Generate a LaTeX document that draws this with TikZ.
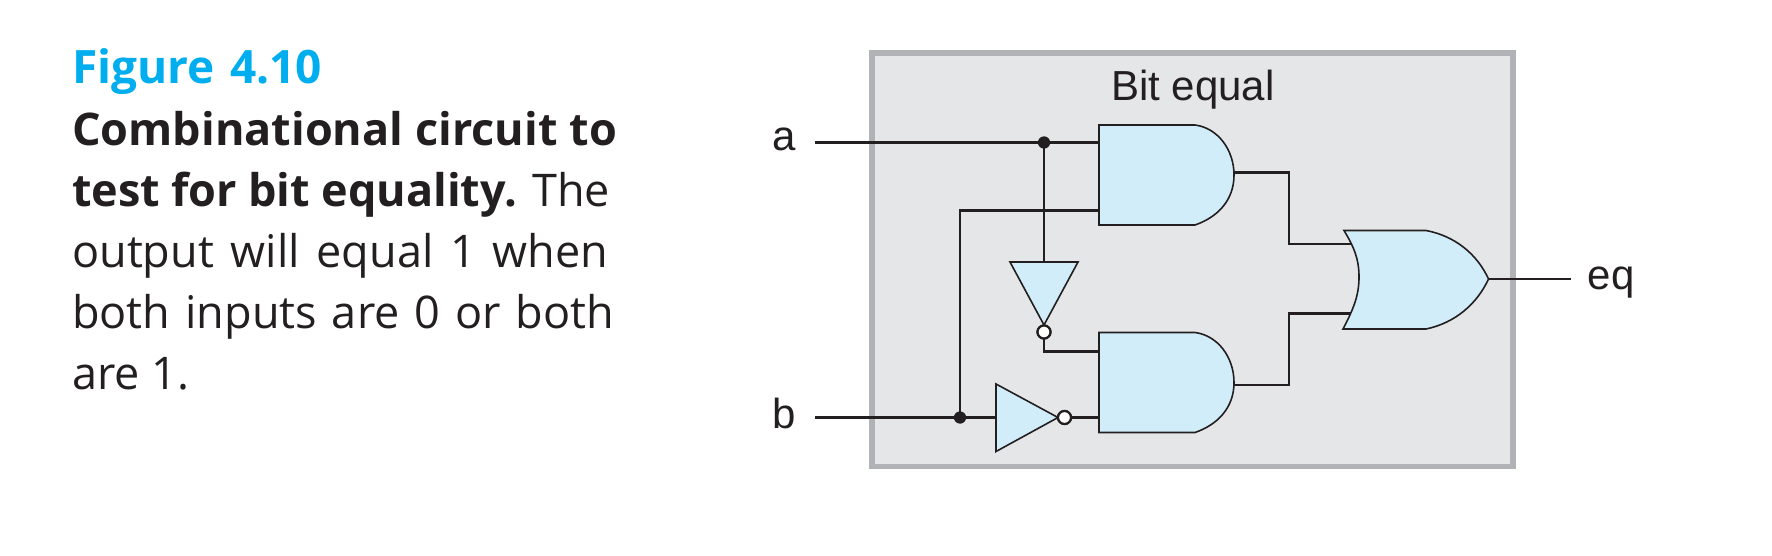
\documentclass[tikz,border=0pt]{standalone}
\usepackage{fontspec}
\setmainfont{Liberation Sans}
\newfontfamily\capfont{Open Sans}
\definecolor{ink}{HTML}{231F20}
\definecolor{panel}{HTML}{E5E6E8}
\definecolor{panelline}{HTML}{B0B2B6}
\definecolor{gatefill}{HTML}{D2EDFA}
\definecolor{figblue}{HTML}{00AEEF}
\tikzset{
  wire/.style={draw=ink,line width=2.4pt,line join=miter},
  gate/.style={draw=ink,fill=gatefill,line width=1.6pt,line join=miter},
  joint/.style={circle,fill=ink,inner sep=0pt,minimum size=12pt},
  bubble/.style={circle,draw=ink,fill=white,line width=2.2pt,inner sep=0pt,minimum size=13pt},
  label/.style={font=\fontsize{42}{50}\selectfont,text=ink,anchor=base,inner sep=0pt},
  capline/.style={font=\capfont\fontsize{45}{52}\selectfont,text=ink,anchor=base west,inner sep=0pt},
}
\newcommand{\capfit}[2]{\makebox[#1pt][s]{#2}}
\begin{document}
\begin{tikzpicture}[x=1pt,y=-1pt]
\useasboundingbox (0,0) rectangle (1772,556);
% caption
\node[capline,text=figblue,font=\capfont\fontsize{46}{52}\selectfont] (t0) at (72,84) {\bfseries\capfit{250}{Figure 4.10}};
\node[capline] (t1) at (72,145.5) {\bfseries\capfit{545}{Combinational circuit to}};
\node[capline] (t2) at (72,206.5) {\capfit{538}{\textbf{test for bit equality.} The}};
\node[capline] (t3) at (72,267.5) {\capfit{536}{output will equal 1 when}};
\node[capline] (t4) at (72,328.5) {\capfit{542}{both inputs are 0 or both}};
\node[capline] (t5) at (72,389.5) {are 1.};
% panel
\node[draw=panelline,fill=panel,line width=5.5pt,outer sep=0pt,minimum width=641pt,minimum height=413.5pt,inner sep=0pt,anchor=north west] (panel) at (872,53) {};
\node[label] (title) at (1193,100.5) {Bit equal};
\node[label] (la) at (784,150.5) {a};
\node[label] (lb) at (784,428) {b};
\node[label] (leq) at (1611,289) {eq};
% ports
\coordinate (ain) at (815,142.5);
\coordinate (bin) at (815,417.5);
\coordinate (eqout) at (1571,279);
\coordinate (and1a) at (1099,142.5);
\coordinate (and1b) at (1099,210.5);
\coordinate (and1o) at (1234,172.5);
\coordinate (and2a) at (1099,351.5);
\coordinate (and2b) at (1099,417.5);
\coordinate (and2o) at (1234,385);
\coordinate (or1a) at (1354,244);
\coordinate (or1b) at (1354,313.5);
\coordinate (or1o) at (1488.5,279);
\coordinate (inv1i) at (996,417.5);
\coordinate (inv2i) at (1044,262);
% wires
\node[joint] (ja) at (1044,142.5) {};
\node[joint] (jb) at (960,417.5) {};
\node[bubble] (b1) at (1064.5,417.5) {};
\node[bubble] (b2) at (1044,332) {};
\draw[wire] (ain) -- (and1a);
\draw[wire] (ja.center) -- (inv2i);
\draw[wire] (bin) -- (inv1i);
\draw[wire] (jb.center) |- (and1b);
\draw[wire] (b1.center) -- (and2b);
\draw[wire] (b2.center) |- (and2a);
\draw[wire] (and1o) -| (1289,244) -- (or1a);
\draw[wire] (and2o) -| (1289,313.5) -- (or1b);
\draw[wire] (or1o) -- (eqout);
% gates
\draw[gate] (1099,125) -- (1195,125) .. controls (1218,128) and (1234,150) .. (1234,175) .. controls (1234,200) and (1218,217) .. (1195,225) -- (1099,225) -- cycle;
\draw[gate] (1099,332.5) -- (1195,332.5) .. controls (1218,335.5) and (1234,357.5) .. (1234,382.5) .. controls (1234,407.5) and (1218,424.5) .. (1195,432.5) -- (1099,432.5) -- cycle;
\draw[gate] (1344,230.5) -- (1426,230.5) .. controls (1455,236) and (1477,254) .. (1488.5,279) .. controls (1477,304) and (1455,323) .. (1426,329) -- (1343,329) .. controls (1354,308) and (1359,295) .. (1359,277) .. controls (1359,259) and (1354,247) .. (1344,230.5) -- cycle;
\draw[gate] (996,384) -- (1058,417.5) -- (996,451.5) -- cycle;
\draw[gate] (1010,262) -- (1078,262) -- (1044,325) -- cycle;
% bubbles and joints on top
\node[bubble] at (b1) {};
\node[bubble] at (b2) {};
\node[joint] at (ja) {};
\node[joint] at (jb) {};
\end{tikzpicture}
\end{document}
